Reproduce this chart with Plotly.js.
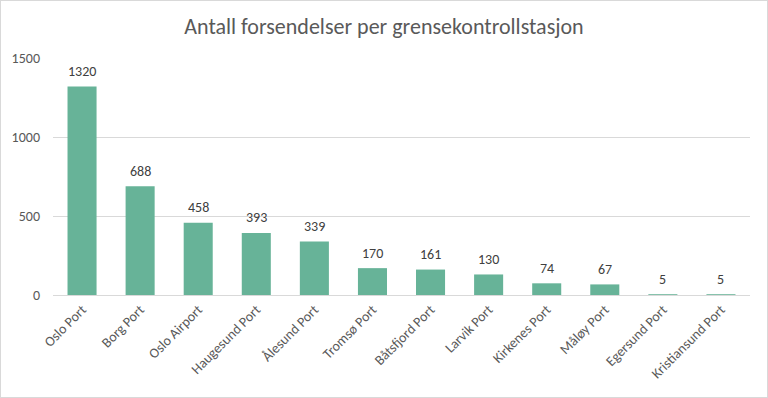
<!DOCTYPE html>
<html><head><meta charset="utf-8">
<script src="https://cdn.plot.ly/plotly-3.0.1.min.js"></script>
<style>html,body{margin:0;padding:0;background:#fff}#c{width:766px;height:396px;border:1px solid #d9d9d9}</style>
</head><body><div id="c"></div>
<script>
const categories = ["Oslo Port","Borg Port","Oslo Airport","Haugesund Port","Ålesund Port","Tromsø Port","Båtsfjord Port","Larvik Port","Kirkenes Port","Måløy Port","Egersund Port","Kristiansund Port"];
const values = [1320,688,458,393,339,170,161,130,74,67,5,5];
const yTicks = [0,500,1000,1500];
const F = "Carlito, Calibri, Lato, sans-serif";
Plotly.newPlot('c', [{
  type:'bar', x:categories, y:values,
  marker:{color:'#67b398'}
}], {
  width:766, height:396,
  margin:{l:52,r:17,t:57,b:102},
  bargap:0.5,
  paper_bgcolor:'#fff', plot_bgcolor:'#fff',
  title:{text:'Antall forsendelser per grensekontrollstasjon', font:{family:F,size:22,color:'#595959'}, x:0.5, xanchor:'center', y:0.935, yanchor:'middle'},
  xaxis:{tickangle:-45, tickfont:{family:F,size:14,color:'#595959'}, showline:true, linecolor:'#d9d9d9', ticks:''},
  yaxis:{range:[0,1500], tickvals:yTicks, tickfont:{family:F,size:14,color:'#595959'}, gridcolor:'#d9d9d9', zeroline:false, showline:false, ticklabelstandoff:12},
  annotations: categories.map((c,i)=>({x:c, y:values[i], text:String(values[i]), showarrow:false, yshift:15, font:{family:F,size:14,color:'#404040'}})),
  showlegend:false, font:{family:F}
}, {staticPlot:true});
</script></body></html>
